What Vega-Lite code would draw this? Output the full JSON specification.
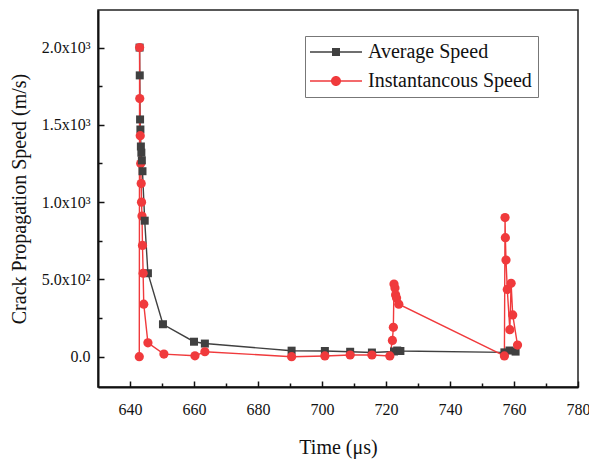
{
  "$schema": "https://vega.github.io/schema/vega-lite/v6.json",
  "width": 480,
  "height": 377,
  "autosize": "none",
  "padding": {"left": 98, "top": 10, "right": 11, "bottom": 79},
  "background": "white",
  "config": {
    "view": {"stroke": "#222222", "strokeWidth": 1.5},
    "font": "Liberation Serif",
    "axis": {"labelFont": "Liberation Serif", "titleFont": "Liberation Serif", "labelColor": "#111111", "titleColor": "#111111", "domainColor": "#111111", "tickColor": "#111111", "grid": false}
  },
  "data": {
    "values": [
      {"series": "Average Speed", "i": 1, "t": 643.0, "v": 2000},
      {"series": "Average Speed", "i": 2, "t": 643.05, "v": 1820},
      {"series": "Average Speed", "i": 3, "t": 643.15, "v": 1535},
      {"series": "Average Speed", "i": 4, "t": 643.25, "v": 1470},
      {"series": "Average Speed", "i": 5, "t": 643.4, "v": 1360},
      {"series": "Average Speed", "i": 6, "t": 643.55, "v": 1320},
      {"series": "Average Speed", "i": 7, "t": 643.7, "v": 1270},
      {"series": "Average Speed", "i": 8, "t": 643.9, "v": 1200},
      {"series": "Average Speed", "i": 9, "t": 644.6, "v": 880},
      {"series": "Average Speed", "i": 10, "t": 645.6, "v": 540},
      {"series": "Average Speed", "i": 11, "t": 650.3, "v": 210},
      {"series": "Average Speed", "i": 12, "t": 660.0, "v": 97},
      {"series": "Average Speed", "i": 13, "t": 663.4, "v": 85},
      {"series": "Average Speed", "i": 14, "t": 690.5, "v": 39},
      {"series": "Average Speed", "i": 15, "t": 700.9, "v": 37},
      {"series": "Average Speed", "i": 16, "t": 708.8, "v": 32},
      {"series": "Average Speed", "i": 17, "t": 715.6, "v": 27},
      {"series": "Average Speed", "i": 18, "t": 722.5, "v": 34},
      {"series": "Average Speed", "i": 19, "t": 723.5, "v": 40},
      {"series": "Average Speed", "i": 20, "t": 724.5, "v": 37},
      {"series": "Average Speed", "i": 21, "t": 757.0, "v": 28},
      {"series": "Average Speed", "i": 22, "t": 758.6, "v": 40},
      {"series": "Average Speed", "i": 23, "t": 760.5, "v": 33},
      {"series": "Instantaneous Speed", "i": 1, "t": 642.9, "v": 0},
      {"series": "Instantaneous Speed", "i": 2, "t": 643.0, "v": 2000},
      {"series": "Instantaneous Speed", "i": 3, "t": 643.05, "v": 1670},
      {"series": "Instantaneous Speed", "i": 4, "t": 643.2, "v": 1430},
      {"series": "Instantaneous Speed", "i": 5, "t": 643.35, "v": 1250},
      {"series": "Instantaneous Speed", "i": 6, "t": 643.5, "v": 1120},
      {"series": "Instantaneous Speed", "i": 7, "t": 643.6, "v": 1000},
      {"series": "Instantaneous Speed", "i": 8, "t": 643.75, "v": 910},
      {"series": "Instantaneous Speed", "i": 9, "t": 643.9, "v": 720},
      {"series": "Instantaneous Speed", "i": 10, "t": 644.1, "v": 540},
      {"series": "Instantaneous Speed", "i": 11, "t": 644.3, "v": 340},
      {"series": "Instantaneous Speed", "i": 12, "t": 645.6, "v": 90},
      {"series": "Instantaneous Speed", "i": 13, "t": 650.6, "v": 17},
      {"series": "Instantaneous Speed", "i": 14, "t": 660.3, "v": 6},
      {"series": "Instantaneous Speed", "i": 15, "t": 663.4, "v": 32},
      {"series": "Instantaneous Speed", "i": 16, "t": 690.5, "v": 0},
      {"series": "Instantaneous Speed", "i": 17, "t": 700.9, "v": 5},
      {"series": "Instantaneous Speed", "i": 18, "t": 708.8, "v": 11},
      {"series": "Instantaneous Speed", "i": 19, "t": 715.6, "v": 11},
      {"series": "Instantaneous Speed", "i": 20, "t": 721.2, "v": 5},
      {"series": "Instantaneous Speed", "i": 21, "t": 722.0, "v": 105},
      {"series": "Instantaneous Speed", "i": 22, "t": 722.3, "v": 190},
      {"series": "Instantaneous Speed", "i": 23, "t": 722.5, "v": 470},
      {"series": "Instantaneous Speed", "i": 24, "t": 722.8, "v": 445},
      {"series": "Instantaneous Speed", "i": 25, "t": 723.0, "v": 400},
      {"series": "Instantaneous Speed", "i": 26, "t": 723.3, "v": 380},
      {"series": "Instantaneous Speed", "i": 27, "t": 724.0, "v": 340},
      {"series": "Instantaneous Speed", "i": 28, "t": 757.0, "v": 5},
      {"series": "Instantaneous Speed", "i": 29, "t": 757.2, "v": 900},
      {"series": "Instantaneous Speed", "i": 30, "t": 757.3, "v": 770},
      {"series": "Instantaneous Speed", "i": 31, "t": 757.5, "v": 625},
      {"series": "Instantaneous Speed", "i": 32, "t": 757.9, "v": 435},
      {"series": "Instantaneous Speed", "i": 33, "t": 758.7, "v": 175},
      {"series": "Instantaneous Speed", "i": 34, "t": 759.1, "v": 475},
      {"series": "Instantaneous Speed", "i": 35, "t": 759.6, "v": 270},
      {"series": "Instantaneous Speed", "i": 36, "t": 761.1, "v": 75}
    ]
  },
  "resolve": {
    "axis": {"x": "independent", "y": "independent"},
    "scale": {"shape": "independent", "size": "independent"},
    "legend": {"color": "independent", "shape": "independent", "size": "independent"}
  },
  "layer": [
    {
      "mark": {"type": "line", "strokeWidth": 1.4},
      "encoding": {
        "x": {"field": "t", "type": "quantitative", "scale": {"domain": [630, 780], "nice": false, "zero": false},
          "axis": {"orient": "bottom", "values": [640, 660, 680, 700, 720, 740, 760, 780], "title": "Time (μs)", "titleFontSize": 20, "titleFontWeight": "normal", "titlePadding": 20, "labelFontSize": 16, "tickSize": -6, "tickWidth": 1.5, "domainWidth": 2, "labelPadding": 20, "labelFlush": false}},
        "y": {"field": "v", "type": "quantitative", "scale": {"domain": [-196, 2243], "nice": false, "zero": false},
          "axis": {"orient": "left", "values": [0, 500, 1000, 1500, 2000], "labelExpr": "datum.value == 0 ? '0.0' : datum.value == 500 ? '5.0x10²' : datum.value == 1000 ? '1.0x10³' : datum.value == 1500 ? '1.5x10³' : '2.0x10³'", "title": "Crack Propagation Speed (m/s)", "titleFontSize": 20, "titleFontWeight": "normal", "titlePadding": 12, "labelFontSize": 16, "tickSize": -6, "tickWidth": 1.5, "domainWidth": 2, "labelPadding": 14, "labelFlush": false}},
        "color": {"field": "series", "type": "nominal", "scale": {"domain": ["Average Speed", "Instantaneous Speed"], "range": ["#404040", "#f03a3c"]}, "legend": null},
        "order": {"field": "i", "type": "quantitative"}
      }
    },
    {
      "mark": {"type": "point", "filled": true, "opacity": 1},
      "encoding": {
        "x": {"field": "t", "type": "quantitative",
          "axis": {"orient": "bottom", "values": [650, 670, 690, 710, 730, 750, 770], "labels": false, "domain": false, "title": null, "tickSize": -4, "tickWidth": 1.5}},
        "y": {"field": "v", "type": "quantitative",
          "axis": {"orient": "left", "values": [250, 750, 1250, 1750], "labels": false, "domain": false, "title": null, "tickSize": -4, "tickWidth": 1.5}},
        "shape": {"field": "series", "type": "nominal", "scale": {"domain": ["Average Speed", "Instantaneous Speed"], "range": ["square", "circle"]}, "legend": null},
        "size": {"field": "series", "type": "nominal", "scale": {"domain": ["Average Speed", "Instantaneous Speed"], "range": [64, 85]}, "legend": null},
        "color": {"field": "series", "type": "nominal", "legend": null},
        "order": {"field": "i", "type": "quantitative"}
      }
    },
    {
      "transform": [{"filter": "datum.i < 0"}],
      "mark": {"type": "point", "filled": true, "opacity": 1, "size": 400},
      "encoding": {
        "x": {"field": "t", "type": "quantitative", "axis": null},
        "y": {"field": "v", "type": "quantitative", "axis": null},
        "shape": {"field": "series", "type": "nominal",
          "scale": {"domain": ["Average Speed", "Instantaneous Speed"], "range": ["M-1.1,-0.07H4.1V0.07H-1.1ZM1.1,-0.4H1.9V0.4H1.1Z", "M-1.1,-0.07H4.1V0.07H-1.1ZM2,0A0.5,0.5,0,1,1,1,0A0.5,0.5,0,1,1,2,0Z"]},
          "legend": {"title": null, "orient": "none", "legendX": 207, "legendY": 26, "direction": "vertical",
            "labelFontSize": 20, "labelFont": "Liberation Serif", "labelColor": "#111111", "labelLimit": 400,
            "strokeColor": "#777777", "fillColor": "white", "padding": 6, "rowPadding": 9, "labelOffset": 37,
            "symbolSize": 400, "symbolStrokeWidth": 0, "symbolOpacity": 1,
            "labelExpr": "datum.label == 'Instantaneous Speed' ? 'Instantancous Speed' : datum.label"}},
        "color": {"field": "series", "type": "nominal",
          "legend": {"title": null, "orient": "none", "legendX": 207, "legendY": 26, "direction": "vertical",
            "labelFontSize": 20, "labelFont": "Liberation Serif", "labelColor": "#111111", "labelLimit": 400,
            "strokeColor": "#777777", "fillColor": "white", "padding": 6, "rowPadding": 9, "labelOffset": 37,
            "symbolSize": 400, "symbolStrokeWidth": 0, "symbolOpacity": 1,
            "labelExpr": "datum.label == 'Instantaneous Speed' ? 'Instantancous Speed' : datum.label"}}
      }
    }
  ]
}
